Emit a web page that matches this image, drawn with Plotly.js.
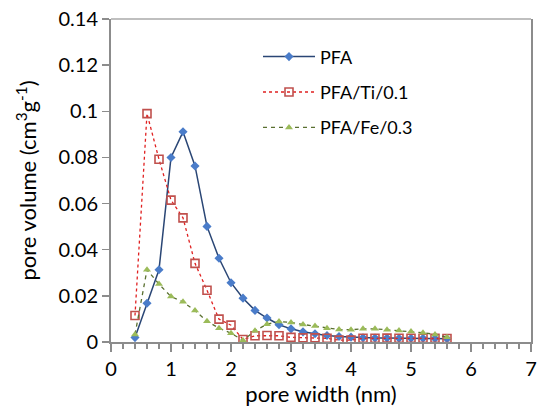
<!DOCTYPE html>
<html>
<head>
<meta charset="utf-8">
<script src="https://cdn.plot.ly/plotly-3.0.1.min.js"></script>
<style>html,body{margin:0;padding:0;background:#fff;}#chart{width:538px;height:410px;}</style>
</head>
<body>
<div id="chart"></div>
<script>
const poreWidth = [0.4,0.6,0.8,1.0,1.2,1.4,1.6,1.8,2.0,2.2,2.4,2.6,2.8,3.0,3.2,3.4,3.6,3.8,4.0,4.2,4.4,4.6,4.8,5.0,5.2,5.4,5.6];
const pfa = [0.0019,0.0168,0.0313,0.0800,0.0911,0.0763,0.0501,0.0363,0.0257,0.0190,0.0137,0.0104,0.0075,0.0057,0.0044,0.0036,0.0028,0.0024,0.0021,0.0018,0.0017,0.0017,0.0016,0.0016,0.0016,0.0015,0.0014];
const pfaTi = [0.0115,0.0990,0.0792,0.0615,0.0538,0.0341,0.0224,0.0099,0.0073,0.0011,0.0027,0.0028,0.0027,0.0020,0.0018,0.0018,0.0016,0.0008,0.0008,0.0016,0.0016,0.0017,0.0016,0.0016,0.0016,0.0016,0.0015];
const pfaFe = [0.0033,0.0313,0.0251,0.0197,0.0174,0.0136,0.0090,0.0060,0.0038,0.0007,0.0049,0.0077,0.0089,0.0085,0.0076,0.0069,0.0060,0.0054,0.0053,0.0057,0.0057,0.0053,0.0050,0.0046,0.0040,0.0033,0.0021];
const names = ["PFA","PFA/Ti/0.1","PFA/Fe/0.3"];

const FONT = "Lato, 'Open Sans', sans-serif";
const traces = [
  {x: poreWidth, y: pfa, name: names[0], type: "scatter", mode: "lines+markers", legendgroup: "a",
   line: {color: "#2a4675", width: 1.5},
   marker: {symbol: "diamond", size: 7, color: "#4a7cc9", line: {color: "#4a7cc9", width: 0}}},
  {x: poreWidth, y: pfaTi, name: names[1], type: "scatter", mode: "lines+markers", legendgroup: "b",
   line: {color: "#e02020", width: 1.3, dash: "dot"},
   marker: {symbol: "square-open", size: 8, color: "#c0504d", line: {color: "#c0504d", width: 1.6}}},
  {x: poreWidth, y: pfaFe, name: names[2], type: "scatter", mode: "lines+markers", legendgroup: "c",
   line: {color: "#5a7030", width: 1.3, dash: "4px,4px"},
   marker: {symbol: "triangle-up", size: 7, color: "#9bbb59", line: {color: "#9bbb59", width: 0}}}
];

const layout = {
  width: 538, height: 410,
  margin: {l: 111, r: 7, t: 19, b: 68},
  paper_bgcolor: "#fff", plot_bgcolor: "#fff",
  font: {family: FONT, color: "#000", size: 20},
  showlegend: true,
  legend: {x: 0.35, y: 0.94, xanchor: "left", yanchor: "top", bgcolor: "rgba(0,0,0,0)",
           font: {family: FONT, size: 18, color: "#000"}, traceorder: "grouped", tracegroupgap: 9,
           itemwidth: 52},
  xaxis: {
    range: [0, 7], dtick: 1, tick0: 0, showgrid: false, zeroline: false,
    showline: true, linecolor: "#8c8c8c", linewidth: 2,
    ticks: "outside", ticklen: 8, tickwidth: 1.5, tickcolor: "#8c8c8c",
    minor: {dtick: 0.2, tick0: 0, ticks: "outside", ticklen: 5, tickwidth: 1.2, tickcolor: "#8c8c8c", showgrid: false},
    tickfont: {family: FONT, size: 20},
    title: {text: "pore width (nm)", font: {family: FONT, size: 22}, standoff: 8}
  },
  yaxis: {
    range: [0, 0.14], dtick: 0.02, tick0: 0, showgrid: false, zeroline: false,
    showline: true, linecolor: "#8c8c8c", linewidth: 2, mirror: true,
    ticks: "outside", ticklen: 7, tickwidth: 1.5, tickcolor: "#8c8c8c",
    tickfont: {family: FONT, size: 20},
    title: {text: "pore volume (cm<sup>3</sup>g<sup>-1</sup>)", font: {family: FONT, size: 22}, standoff: 16}
  },
  shapes: [
    {type: "line", xref: "paper", yref: "paper", x0: 0, x1: 1, y0: 1, y1: 1,
     line: {color: "#bfbfbf", width: 2}}
  ]
};

Plotly.newPlot("chart", traces, layout, {displayModeBar: false, staticPlot: true});
</script>
</body>
</html>
